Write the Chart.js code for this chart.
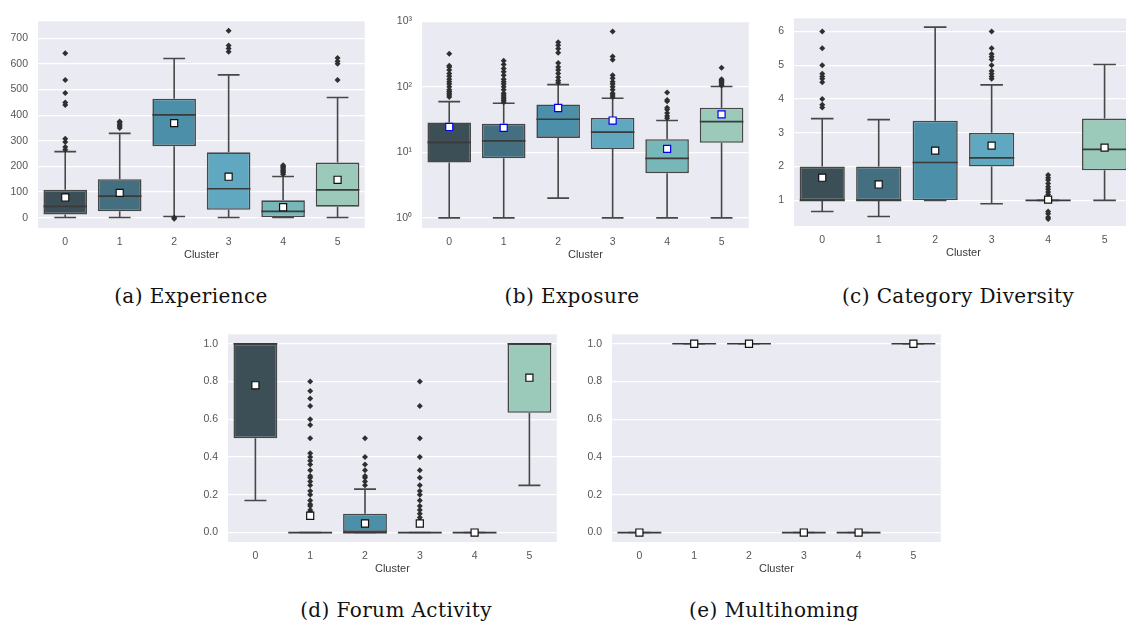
<!DOCTYPE html>
<html>
<head>
<meta charset="utf-8">
<script src="https://cdn.jsdelivr.net/npm/chart.js@4.4.0/dist/chart.umd.min.js"></script>
<style>
  html, body { margin: 0; padding: 0; background: #fff; overflow: hidden; width: 1126px; height: 624px; }
  canvas { position: absolute; }
  .caption { position: absolute; transform: translateX(-50%); white-space: nowrap;
    font-family: "DejaVu Serif", serif; font-size: 20px; letter-spacing: 0.4px; line-height: 22px; color: #111; }
</style>
</head>
<body>
<canvas id="chartA"></canvas>
<canvas id="chartB"></canvas>
<canvas id="chartC"></canvas>
<canvas id="chartD"></canvas>
<canvas id="chartE"></canvas>
<div class="caption" style="left:191px;top:285px">(a) Experience</div>
<div class="caption" style="left:572px;top:285px">(b) Exposure</div>
<div class="caption" style="left:958px;top:285px">(c) Category Diversity</div>
<div class="caption" style="left:396px;top:599px">(d) Forum Activity</div>
<div class="caption" style="left:774px;top:599px">(e) Multihoming</div>
<script>
const clusters=[0,1,2,3,4,5];
const boxColors=["#3c4f57","#436f80","#4b8fa9","#5fa8c0","#77b7b8","#9bcabb"];

// (a) Experience
const expLow=[1,1,5,1,1,1];
const expQ1=[13,25,279,31,2,43];
const expMed=[44,84,401,113,25,109];
const expQ3=[109,150,464,255,68,215];
const expHigh=[258,329,621,557,161,469];
const expMean=[79,97,369,160,41,148];
const expOutliers=[[265,276,295,308,440,449,486,537,641],[350,357,363,370,375],[-4,1],[647,660,672,729],[170,175,180,185,190,195,200,205],[537,600,610,623]];
const expTicks=[0,100,200,300,400,500,600,700];

// (b) Exposure (log)
const expoLow=[1,1,2,1,1,1];
const expoQ1=[7,8.1,16.6,11.2,4.8,14];
const expoMed=[14.2,15,32,20.4,8.1,29.5];
const expoQ3=[28.6,27.3,53.8,33.5,15.9,48];
const expoHigh=[59.5,56,108,67,30.6,101];
const expoMean=[24.4,23.6,47.5,30.6,11.3,37.9];
const expoOutliers=[[70,75,80,85,90,100,110,120,130,145,160,180,200,210,320],[58,62,66,70,75,80,90,100,110,120,130,150,170,190,220,250],[115,125,140,160,180,200,230,330,380,430,480],[70,75,80,90,100,110,120,135,150,260,290,700],[33,36,40,45,48,60,63,82],[105,110,115,120,125,130,195]];
const expoTicks=[1,10,100,1000];

// (c) Category Diversity
const divLow=[0.67,0.52,1,0.9,1,1];
const divQ1=[1,1,1,2,1,1.89];
const divMed=[1,1,2.12,2.26,1,2.51];
const divQ3=[2,2,3.36,3,1,3.42];
const divHigh=[3.42,3.39,6.13,4.42,1,5.02];
const divMean=[1.67,1.47,2.47,2.62,1.02,2.56];
const divOutliers=[[3.75,3.83,4,4.5,4.6,4.67,4.75,5,5.5,6],[],[],[4.6,4.67,4.75,4.83,5,5.17,5.25,5.33,5.5,6],[0.45,0.5,0.6,0.67,1.17,1.25,1.33,1.4,1.5,1.6,1.67,1.75],[]];
const divTicks=[1,2,3,4,5,6];

// (d) Forum Activity
const forLow=[0.17,0,0,0,0,0.25];
const forQ1=[0.5,0,0,0,0,0.634];
const forMed=[1,0,0,0,0,1];
const forQ3=[1,0,0.1,0,0,1];
const forHigh=[1,0,0.23,0,0,1];
const forMean=[0.78,0.089,0.048,0.048,0,0.82];
const forOutliers=[[],[0.1,0.11,0.12,0.14,0.15,0.17,0.2,0.22,0.25,0.27,0.29,0.3,0.33,0.36,0.38,0.4,0.42,0.5,0.57,0.6,0.67,0.71,0.75,0.8],[0.25,0.27,0.29,0.3,0.33,0.36,0.4,0.5],[0.06,0.08,0.1,0.12,0.14,0.17,0.2,0.22,0.25,0.29,0.33,0.4,0.5,0.67,0.8],[],[]];
const fracTicks=[0,0.2,0.4,0.6,0.8,1.0];

// (e) Multihoming
const mhLow=[0,1,1,0,0,1];
const mhQ1=[0,1,1,0,0,1];
const mhMed=[0,1,1,0,0,1];
const mhQ3=[0,1,1,0,0,1];
const mhHigh=[0,1,1,0,0,1];
const mhMean=[0,1,1,0,0,1];
const mhOutliers=[[],[],[],[],[],[]];

const lineColor="#474747";
const tickFont={family:"'Liberation Sans', Arial, sans-serif",size:10.5};
const supers={0:"\u2070",1:"\u00b9",2:"\u00b2",3:"\u00b3"};

// fill the plot area like seaborn's darkgrid
const bgPlugin={
  id:"bg",
  beforeDraw(chart){
    const {ctx,chartArea:a}=chart;
    ctx.save();
    ctx.fillStyle="#eaeaf2";
    ctx.fillRect(a.left,a.top,a.right-a.left,a.bottom-a.top);
    ctx.restore();
  }
};

function makeBoxChart(id,box,p){
  const canvas=document.getElementById(id);
  const yAxisW=38, xAxisH=36, padTop=p.padTop, padRight=5;
  canvas.width=yAxisW+p.plotW+padRight;
  canvas.height=padTop+p.plotH+xAxisH;
  canvas.style.left=(p.left-yAxisW)+"px";
  canvas.style.top=(p.top-padTop)+"px";

  const whiskers=[], medians=[], outliers=[];
  clusters.forEach(i=>{
    whiskers.push({x:i,y:box.low[i]},{x:i,y:box.q1[i]},{x:i,y:null});
    whiskers.push({x:i-0.2,y:box.low[i]},{x:i+0.2,y:box.low[i]},{x:i,y:null});
    whiskers.push({x:i,y:box.q3[i]},{x:i,y:box.high[i]},{x:i,y:null});
    whiskers.push({x:i-0.2,y:box.high[i]},{x:i+0.2,y:box.high[i]},{x:i,y:null});
    medians.push({x:i-0.4,y:box.med[i]},{x:i+0.4,y:box.med[i]},{x:i,y:null});
    box.out[i].forEach(v=>outliers.push({x:i,y:v}));
  });

  return new Chart(canvas,{
    type:"bar",
    data:{
      datasets:[
        {type:"scatter",order:0,data:clusters.map(i=>({x:i,y:box.mean[i]})),
          pointStyle:"rect",pointRadius:5,pointHoverRadius:5,backgroundColor:"#ffffff",
          borderColor:p.meanEdge,pointBorderWidth:1.2},
        {type:"scatter",order:1,data:outliers,pointStyle:"rectRot",pointRadius:3,pointHoverRadius:3,
          backgroundColor:"#2f2f2f",borderColor:"#2f2f2f",pointBorderWidth:0},
        {type:"line",order:2,data:medians,borderColor:"#3a3a3a",borderWidth:1.7,pointRadius:0,spanGaps:false},
        {type:"line",order:3,data:whiskers,borderColor:lineColor,borderWidth:1.6,pointRadius:0,spanGaps:false},
        {type:"bar",order:4,data:clusters.map(i=>({x:i,y:[box.q1[i],box.q3[i]]})),
          backgroundColor:boxColors,borderColor:lineColor,borderWidth:1.6,borderSkipped:false,
          categoryPercentage:0.8,barPercentage:1,grouped:false}
      ]
    },
    options:{
      responsive:false,
      animation:false,
      events:[],
      layout:{padding:{top:padTop,right:padRight,left:0,bottom:0}},
      plugins:{legend:{display:false},tooltip:{enabled:false}},
      scales:{
        x:{
          type:"linear",min:-0.5,max:5.5,offset:false,
          grid:{display:false,offset:false,drawTicks:false},
          border:{display:false},
          afterBuildTicks:s=>{s.ticks=clusters.map(v=>({value:v}));},
          afterFit:s=>{s.height=xAxisH;},
          ticks:{padding:8,color:"#555",font:tickFont,maxRotation:0,autoSkip:false,callback:v=>String(v)},
          title:{display:true,text:"Cluster",color:"#3a3a3a",padding:{top:0,bottom:2},
            font:{family:"'Liberation Sans', Arial, sans-serif",size:11}}
        },
        y:{
          type:p.log?"logarithmic":"linear",min:p.min,max:p.max,
          grid:{color:"#ffffff",lineWidth:1.2,drawTicks:false},
          border:{display:false},
          afterBuildTicks:s=>{s.ticks=p.ticks.map(v=>({value:v}));},
          afterFit:s=>{s.width=yAxisW;},
          ticks:{padding:10,color:"#555",font:tickFont,autoSkip:false,callback:p.fmt}
        }
      }
    },
    plugins:[bgPlugin]
  });
}

makeBoxChart("chartA",
  {low:expLow,q1:expQ1,med:expMed,q3:expQ3,high:expHigh,mean:expMean,out:expOutliers},
  {left:38,top:15,plotW:328,plotH:213,padTop:10,min:-40,max:766,ticks:expTicks,meanEdge:"#111",fmt:v=>String(v)});

makeBoxChart("chartB",
  {low:expoLow,q1:expoQ1,med:expoMed,q3:expoQ3,high:expoHigh,mean:expoMean,out:expoOutliers},
  {left:422,top:15,plotW:328,plotH:213,padTop:10,log:true,min:0.71,max:1000,ticks:expoTicks,meanEdge:"#0000ee",
   fmt:v=>"10"+supers[Math.round(Math.log10(v))]});

makeBoxChart("chartC",
  {low:divLow,q1:divQ1,med:divMed,q3:divQ3,high:divHigh,mean:divMean,out:divOutliers},
  {left:794,top:7,plotW:340,plotH:219,padTop:5,min:0.24,max:6.39,ticks:divTicks,meanEdge:"#111",fmt:v=>String(v)});

makeBoxChart("chartD",
  {low:forLow,q1:forQ1,med:forMed,q3:forQ3,high:forHigh,mean:forMean,out:forOutliers},
  {left:228,top:328,plotW:330,plotH:214,padTop:10,min:-0.05,max:1.05,ticks:fracTicks,meanEdge:"#111",fmt:v=>v.toFixed(1)});

makeBoxChart("chartE",
  {low:mhLow,q1:mhQ1,med:mhMed,q3:mhQ3,high:mhHigh,mean:mhMean,out:mhOutliers},
  {left:612,top:328,plotW:330,plotH:214,padTop:10,min:-0.05,max:1.05,ticks:fracTicks,meanEdge:"#111",fmt:v=>v.toFixed(1)});
</script>
</body>
</html>
